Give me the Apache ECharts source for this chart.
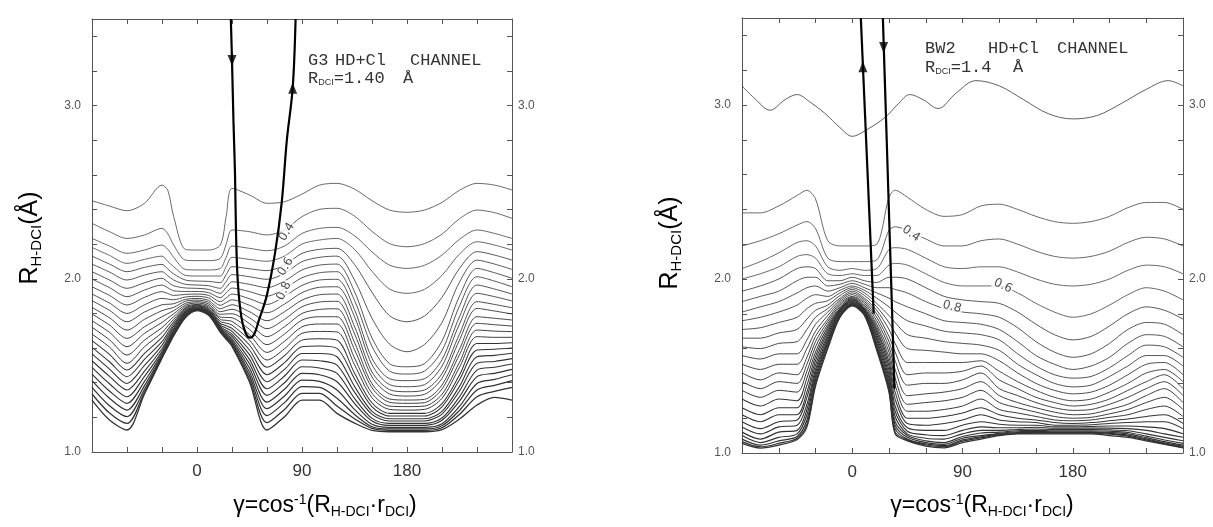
<!DOCTYPE html>
<html>
<head>
<meta charset="utf-8">
<script src="https://cdn.jsdelivr.net/npm/echarts@6/dist/echarts.min.js"></script>
<style>
html,body{margin:0;padding:0;background:#fff;}
#chart{width:1213px;height:527px;}
</style>
</head>
<body>
<div id="chart"></div>
<script>
// Angle samples (degrees) at which each panel's contours are tabulated
const g3Gamma  = [-90,-75,-60,-45,-30,-25,-20,-10,0,10,20,25,30,45,60,75,90,105,120,135,150,165,180,195,210,225,240,255,270];
const bw2Gamma = [-90,-75,-60,-45,-37,-30,-20,-10,0,10,20,30,35,45,60,75,90,105,120,135,150,165,180,195,210,225,240,255,270];

// Tick labels
const xLabelValues = [0, 90, 180];
const yLabelValues = [1, 2, 3];

// G3 surface: R of each contour (outermost first) at each angle sample
const g3ContourR = [
  [2.451,2.320,2.233,2.181,2.131,2.085,2.041,1.999,1.954,1.912,1.874,1.835,1.797,1.758,1.720,1.681,1.643,1.604,1.566,1.527,1.489,1.450,1.412,1.373,1.335,1.300],
  [2.420,2.272,2.189,2.135,2.085,2.039,1.993,1.949,1.904,1.860,1.818,1.775,1.733,1.691,1.648,1.606,1.564,1.521,1.479,1.437,1.394,1.352,1.310,1.267,1.225,1.185],
  [2.393,2.233,2.147,2.089,2.041,1.993,1.945,1.897,1.849,1.800,1.752,1.704,1.656,1.608,1.560,1.512,1.473,1.435,1.396,1.358,1.319,1.281,1.242,1.204,1.165,1.127],
  [2.436,2.253,2.166,2.112,2.066,2.022,1.977,1.935,1.893,1.850,1.808,1.766,1.723,1.685,1.646,1.608,1.569,1.535,1.500,1.467,1.437,1.408,1.383,1.362,1.346,1.335],
  [2.541,2.291,2.195,2.131,2.083,2.041,2.003,1.964,1.926,1.887,1.850,1.816,1.781,1.748,1.718,1.689,1.662,1.637,1.616,1.596,1.581,1.570,1.560,1.552,1.546,1.541],
  [2.510,2.260,2.170,2.100,2.056,2.017,1.982,1.948,1.915,1.883,1.853,1.826,1.799,1.773,1.750,1.728,1.707,1.688,1.672,1.656,1.644,1.634,1.625,1.617,1.611,1.606],
  [2.359,2.195,2.124,2.070,2.028,1.993,1.960,1.931,1.904,1.879,1.856,1.835,1.816,1.798,1.781,1.766,1.752,1.739,1.727,1.716,1.706,1.697,1.689,1.681,1.675,1.670],
  [2.170,2.108,2.054,2.020,1.993,1.968,1.947,1.927,1.910,1.895,1.881,1.870,1.858,1.848,1.839,1.831,1.824,1.816,1.810,1.804,1.799,1.793,1.787,1.783,1.779,1.775],
  [2.166,2.105,2.051,2.016,1.987,1.964,1.945,1.927,1.912,1.899,1.887,1.877,1.868,1.860,1.852,1.847,1.841,1.837,1.833,1.829,1.825,1.824,1.822,1.820,1.818,1.816],
  [2.166,2.105,2.051,2.016,1.985,1.960,1.939,1.920,1.904,1.889,1.875,1.864,1.854,1.845,1.837,1.829,1.824,1.818,1.812,1.808,1.804,1.800,1.797,1.795,1.793,1.789],
  [2.195,2.118,2.060,2.016,1.978,1.945,1.916,1.891,1.868,1.847,1.827,1.810,1.795,1.779,1.766,1.754,1.743,1.733,1.725,1.718,1.712,1.706,1.702,1.698,1.695,1.691],
  [2.360,2.200,2.125,2.070,2.024,1.985,1.950,1.919,1.890,1.863,1.839,1.817,1.797,1.777,1.760,1.744,1.729,1.715,1.703,1.693,1.683,1.675,1.668,1.662,1.657,1.651],
  [2.522,2.282,2.189,2.124,2.070,2.024,1.983,1.947,1.912,1.879,1.850,1.824,1.798,1.775,1.754,1.733,1.714,1.697,1.681,1.668,1.654,1.643,1.633,1.625,1.618,1.610],
  [2.484,2.272,2.176,2.112,2.058,2.012,1.968,1.926,1.885,1.847,1.810,1.775,1.741,1.708,1.677,1.646,1.618,1.589,1.562,1.535,1.510,1.485,1.462,1.441,1.421,1.404],
  [2.436,2.253,2.162,2.101,2.047,1.997,1.949,1.900,1.852,1.804,1.758,1.712,1.666,1.620,1.575,1.531,1.489,1.446,1.406,1.365,1.327,1.288,1.250,1.210,1.169,1.127],
  [2.445,2.282,2.189,2.131,2.079,2.031,1.987,1.943,1.899,1.854,1.810,1.766,1.723,1.681,1.639,1.596,1.556,1.516,1.477,1.439,1.400,1.362,1.323,1.285,1.246,1.204],
  [2.489,2.359,2.262,2.201,2.147,2.099,2.051,2.006,1.962,1.920,1.877,1.839,1.800,1.762,1.723,1.685,1.646,1.608,1.569,1.531,1.492,1.454,1.415,1.377,1.339,1.300],
  [2.541,2.401,2.291,2.224,2.170,2.124,2.079,2.035,1.993,1.951,1.908,1.866,1.823,1.781,1.739,1.696,1.654,1.612,1.569,1.527,1.485,1.446,1.408,1.373,1.339,1.300],
  [2.551,2.407,2.297,2.233,2.176,2.131,2.085,2.041,1.997,1.954,1.912,1.870,1.827,1.781,1.739,1.693,1.646,1.598,1.550,1.502,1.454,1.406,1.358,1.310,1.265,1.223],
  [2.518,2.362,2.249,2.170,2.083,1.993,1.926,1.875,1.822,1.781,1.725,1.683,1.633,1.591,1.543,1.504,1.456,1.423,1.379,1.346,1.310,1.281,1.246,1.217,1.192,1.167],
  [2.451,2.274,2.155,2.043,1.922,1.772,1.658,1.610,1.541,1.504,1.462,1.433,1.394,1.371,1.339,1.313,1.283,1.261,1.235,1.217,1.194,1.179,1.160,1.146,1.136,1.125],
  [2.397,2.203,2.079,1.941,1.787,1.623,1.510,1.467,1.423,1.389,1.360,1.335,1.306,1.287,1.265,1.246,1.223,1.208,1.192,1.179,1.165,1.154,1.142,1.133,1.125,1.117],
  [2.384,2.185,2.060,1.916,1.752,1.579,1.492,1.450,1.412,1.377,1.348,1.323,1.300,1.281,1.262,1.242,1.223,1.208,1.192,1.179,1.165,1.154,1.142,1.133,1.125,1.117],
  [2.397,2.203,2.078,1.939,1.785,1.621,1.510,1.467,1.423,1.389,1.358,1.333,1.304,1.285,1.265,1.246,1.223,1.208,1.192,1.179,1.165,1.154,1.142,1.133,1.125,1.117],
  [2.441,2.258,2.137,2.020,1.893,1.748,1.641,1.585,1.533,1.496,1.452,1.425,1.387,1.364,1.333,1.310,1.279,1.261,1.235,1.219,1.196,1.183,1.163,1.152,1.140,1.129],
  [2.511,2.347,2.228,2.143,2.060,1.981,1.900,1.843,1.781,1.739,1.681,1.646,1.593,1.562,1.518,1.489,1.444,1.417,1.379,1.352,1.319,1.294,1.263,1.240,1.217,1.190],
  [2.551,2.397,2.282,2.214,2.157,2.108,2.060,2.012,1.964,1.916,1.868,1.829,1.781,1.743,1.704,1.666,1.627,1.589,1.550,1.512,1.473,1.435,1.396,1.358,1.319,1.271],
  [2.541,2.382,2.262,2.195,2.137,2.085,2.035,1.987,1.941,1.897,1.852,1.814,1.772,1.735,1.698,1.662,1.627,1.593,1.558,1.523,1.489,1.454,1.419,1.385,1.350,1.315],
  [2.513,2.349,2.233,2.166,2.108,2.054,2.003,1.954,1.912,1.872,1.833,1.797,1.762,1.727,1.695,1.662,1.631,1.600,1.570,1.539,1.508,1.477,1.446,1.412,1.373,1.300]
];

// BW2 surface: R of each contour (outermost first) at each angle sample
const bw2ContourR = [
  [2.38,2.19,2.06,2.00,1.93,1.87,1.81,1.76,1.71,1.66,1.61,1.56,1.51,1.46,1.41,1.36,1.31,1.26,1.22,1.18,1.15,1.12,1.10,1.08,1.065,1.055],
  [2.38,2.22,2.10,2.03,1.96,1.90,1.84,1.78,1.72,1.66,1.60,1.54,1.48,1.42,1.37,1.32,1.27,1.22,1.18,1.14,1.11,1.08,1.06,1.045,1.035,1.028],
  [2.42,2.26,2.15,2.07,2.00,1.93,1.87,1.81,1.75,1.69,1.63,1.57,1.51,1.46,1.41,1.36,1.31,1.26,1.22,1.18,1.15,1.12,1.09,1.07,1.055,1.045],
  [2.48,2.31,2.21,2.13,2.06,1.99,1.92,1.85,1.78,1.71,1.64,1.57,1.51,1.45,1.40,1.35,1.30,1.26,1.22,1.19,1.16,1.13,1.11,1.095,1.085,1.078],
  [2.51,2.33,2.22,2.14,2.07,2.01,1.95,1.89,1.83,1.77,1.71,1.65,1.60,1.55,1.51,1.47,1.43,1.39,1.35,1.32,1.28,1.25,1.22,1.19,1.165,1.15],
  [2.46,2.29,2.19,2.12,2.06,2.01,1.96,1.91,1.86,1.82,1.78,1.74,1.70,1.67,1.64,1.61,1.58,1.555,1.53,1.505,1.48,1.46,1.44,1.42,1.40,1.385],
  [2.22,2.12,2.07,2.03,1.99,1.96,1.93,1.90,1.875,1.85,1.83,1.81,1.79,1.77,1.755,1.74,1.725,1.71,1.695,1.68,1.665,1.65,1.64,1.63,1.615,1.60],
  [2.19,2.10,2.05,2.02,1.99,1.97,1.95,1.935,1.92,1.905,1.89,1.88,1.87,1.86,1.85,1.84,1.83,1.825,1.82,1.815,1.81,1.80,1.795,1.79,1.785,1.78],
  [2.19,2.10,2.06,2.03,2.01,1.99,1.975,1.96,1.95,1.94,1.93,1.92,1.91,1.90,1.895,1.89,1.885,1.88,1.875,1.87,1.865,1.86,1.856,1.852,1.848,1.845],
  [2.19,2.10,2.05,2.02,1.99,1.97,1.95,1.935,1.92,1.905,1.89,1.88,1.87,1.86,1.85,1.84,1.83,1.825,1.82,1.815,1.81,1.805,1.80,1.797,1.794,1.79],
  [2.20,2.11,2.06,2.02,1.98,1.95,1.92,1.89,1.86,1.84,1.82,1.80,1.78,1.76,1.74,1.725,1.71,1.695,1.68,1.665,1.65,1.635,1.62,1.61,1.60,1.59],
  [2.47,2.28,2.17,2.08,2.01,1.95,1.89,1.84,1.79,1.75,1.71,1.67,1.64,1.61,1.58,1.55,1.525,1.50,1.475,1.45,1.43,1.41,1.39,1.375,1.36,1.35],
  [2.51,2.30,2.18,2.09,2.01,1.94,1.87,1.81,1.75,1.69,1.63,1.58,1.53,1.48,1.43,1.39,1.35,1.31,1.27,1.24,1.21,1.18,1.16,1.14,1.12,1.11],
  [2.47,2.28,2.17,2.08,2.00,1.92,1.84,1.76,1.68,1.60,1.52,1.45,1.39,1.33,1.28,1.24,1.20,1.17,1.145,1.125,1.11,1.10,1.09,1.08,1.075,1.07],
  [2.40,2.23,2.12,2.03,1.95,1.87,1.80,1.73,1.66,1.59,1.52,1.46,1.40,1.34,1.29,1.24,1.20,1.16,1.13,1.105,1.085,1.07,1.06,1.052,1.046,1.04],
  [2.36,2.19,2.07,1.98,1.90,1.83,1.76,1.70,1.64,1.58,1.52,1.46,1.40,1.35,1.30,1.25,1.21,1.17,1.13,1.10,1.08,1.06,1.05,1.042,1.036,1.03],
  [2.37,2.19,2.06,1.96,1.88,1.81,1.75,1.69,1.63,1.57,1.52,1.47,1.42,1.37,1.32,1.27,1.23,1.19,1.16,1.13,1.11,1.095,1.085,1.075,1.068,1.06],
  [2.42,2.22,2.07,1.96,1.87,1.80,1.74,1.68,1.62,1.57,1.53,1.50,1.46,1.41,1.36,1.31,1.26,1.22,1.18,1.15,1.13,1.115,1.10,1.093,1.087,1.08],
  [2.43,2.23,2.07,1.96,1.86,1.78,1.71,1.65,1.59,1.53,1.47,1.42,1.37,1.33,1.29,1.25,1.22,1.19,1.165,1.145,1.13,1.12,1.113,1.108,1.104,1.10],
  [2.40,2.20,2.04,1.92,1.81,1.72,1.64,1.57,1.51,1.46,1.41,1.37,1.33,1.29,1.26,1.23,1.20,1.18,1.16,1.145,1.135,1.128,1.122,1.117,1.113,1.11],
  [2.36,2.16,2.00,1.86,1.74,1.64,1.56,1.50,1.45,1.40,1.36,1.32,1.29,1.26,1.235,1.21,1.19,1.175,1.16,1.148,1.138,1.13,1.124,1.119,1.114,1.11],
  [2.33,2.13,1.97,1.81,1.68,1.58,1.51,1.45,1.40,1.36,1.32,1.29,1.26,1.235,1.21,1.19,1.175,1.16,1.15,1.142,1.135,1.128,1.122,1.118,1.114,1.11],
  [2.32,2.12,1.96,1.78,1.65,1.55,1.48,1.43,1.38,1.34,1.30,1.27,1.245,1.22,1.20,1.185,1.17,1.16,1.15,1.142,1.135,1.128,1.122,1.118,1.114,1.11],
  [2.33,2.13,1.97,1.80,1.67,1.57,1.50,1.44,1.39,1.35,1.31,1.28,1.25,1.225,1.205,1.19,1.175,1.162,1.152,1.143,1.135,1.128,1.122,1.118,1.114,1.11],
  [2.36,2.16,2.00,1.85,1.73,1.63,1.55,1.49,1.44,1.39,1.35,1.31,1.28,1.25,1.225,1.205,1.185,1.17,1.155,1.143,1.133,1.125,1.118,1.113,1.108,1.10],
  [2.41,2.21,2.05,1.91,1.80,1.71,1.63,1.56,1.50,1.45,1.40,1.36,1.32,1.28,1.25,1.22,1.195,1.175,1.155,1.14,1.128,1.118,1.11,1.103,1.097,1.09],
  [2.44,2.24,2.08,1.95,1.84,1.75,1.68,1.62,1.56,1.51,1.46,1.41,1.37,1.33,1.29,1.25,1.21,1.18,1.15,1.13,1.11,1.097,1.088,1.081,1.075,1.07],
  [2.44,2.23,2.07,1.93,1.82,1.74,1.67,1.61,1.56,1.52,1.48,1.45,1.41,1.37,1.32,1.27,1.22,1.18,1.14,1.11,1.09,1.075,1.065,1.058,1.053,1.05],
  [2.40,2.19,2.03,1.88,1.77,1.68,1.61,1.55,1.50,1.45,1.41,1.37,1.33,1.29,1.25,1.21,1.17,1.14,1.11,1.09,1.07,1.055,1.045,1.038,1.033,1.03]
];

// BW2 outermost (asymptotic) contour near R = 3
const bw2OuterGamma = [-90,-80,-67,-55,-45,-35,-22,-10,0,10,27,38,47,58,70,85,101,120,140,160,180,200,220,240,258,270];
const bw2OuterR     = [3.11,3.04,2.97,3.03,3.06,3.02,2.95,2.87,2.82,2.85,2.93,3.01,3.06,3.03,2.98,3.07,3.14,3.11,3.03,2.95,2.92,2.94,3.01,3.09,3.14,3.11];

// Minimum-energy paths
const g3PathGamma = [29,30,31.3,32.6,33.5,35,38,41.5,45.4,49,53,59.7,66.9,72.6,77,82,84.5];
const g3PathR     = [3.5,3.26,2.90,2.60,2.25,1.98,1.78,1.69,1.66,1.68,1.76,1.90,2.15,2.44,2.80,3.10,3.5];
const bw2InGamma  = [25,34.5];
const bw2InR      = [3.5,1.37];
const bw2OutGamma = [7,17.5];
const bw2OutR     = [3.5,1.80];

// Direction arrows on the paths
const g3ArrowGamma = [30, 82];
const g3ArrowR     = [3.26, 3.10];
const g3ArrowDir   = ['down', 'up'];
const bw2ArrowGamma = [25.6, 8.7];
const bw2ArrowR     = [3.33, 3.22];
const bw2ArrowDir   = ['down', 'up'];

// Contour level labels
const g3LevelText  = ['0.4', '0.6', '0.8'];
const g3LevelGamma = [77, 76, 74.6];
const g3LevelR     = [2.27, 2.07, 1.93];
const bw2LevelText  = ['0.4', '0.6', '0.8'];
const bw2LevelGamma = [48, 123, 81.4];
const bw2LevelR     = [2.26, 1.96, 1.84];

// label tilt (degrees)
const g3LevelTilt  = [58, 58, 65];
const bw2LevelTilt = [-35, -25, -15];

const FONT = '"Liberation Sans", Arial, sans-serif';
const MONO = '"Liberation Mono", "DejaVu Sans Mono", monospace';
const AXIS_COLOR = '#555';

function xAxisFor(grid, pos) {
  return {
    type: 'value', gridIndex: grid, position: pos,
    min: -90, max: 270, interval: 30,
    splitLine: { show: false },
    axisLine: { show: true, onZero: false, lineStyle: { color: AXIS_COLOR, width: 1 } },
    axisTick: { show: true, inside: true, length: 5, lineStyle: { color: AXIS_COLOR } },
    axisLabel: {
      show: pos === 'bottom', margin: 11, fontSize: 17, color: '#333', fontFamily: FONT,
      formatter: v => xLabelValues.indexOf(Math.round(v)) >= 0 && Math.abs(v - Math.round(v)) < 1e-6 ? String(Math.round(v)) : ''
    }
  };
}
function yAxisFor(grid, pos) {
  return {
    type: 'value', gridIndex: grid, position: pos,
    min: 1, max: 3.5, interval: 0.2,
    splitLine: { show: false },
    axisLine: { show: true, onZero: false, lineStyle: { color: AXIS_COLOR, width: 1 } },
    axisTick: { show: true, inside: true, length: 5, lineStyle: { color: AXIS_COLOR } },
    axisLabel: {
      show: true, margin: pos === 'left' ? 11 : 6, fontSize: 12, color: '#555', fontFamily: FONT,
      formatter: v => {
        const r = Math.round(v);
        return (Math.abs(v - r) < 1e-6 && yLabelValues.indexOf(r) >= 0) ? r.toFixed(1) : '';
      }
    }
  };
}

// one line series per contour; the inner contours near the repulsive wall are drawn a bit heavier
function contourSeries(gammas, columns, xi, yi) {
  const n = columns[0].length;
  const out = [];
  for (let k = 0; k < n; k++) {
    const t = k / (n - 1);
    out.push({
      type: 'line', xAxisIndex: xi, yAxisIndex: yi,
      data: gammas.map((g, i) => [g, columns[i][k]]),
      smooth: 0.3, symbol: 'none', silent: true,
      lineStyle: { color: k < 4 ? '#444' : '#333', width: 0.8 + 0.5 * t * t }, z: 2
    });
  }
  return out;
}
function pathSeries(gs, rs, xi, yi, smooth) {
  return {
    type: 'line', xAxisIndex: xi, yAxisIndex: yi,
    data: gs.map((g, i) => [g, rs[i]]),
    smooth: smooth, symbol: 'none', silent: true,
    lineStyle: { color: '#000', width: 2.2 }, z: 5
  };
}
function arrowSeries(gs, rs, dirs, xi, yi) {
  return {
    type: 'scatter', xAxisIndex: xi, yAxisIndex: yi,
    data: gs.map((g, i) => ({ value: [g, rs[i]], symbolRotate: dirs[i] === 'down' ? 180 : 0 })),
    symbol: 'triangle', symbolSize: [9, 11], silent: true,
    itemStyle: { color: '#000' }, z: 6
  };
}
function levelLabelSeries(texts, gs, rs, tilts, xi, yi) {
  return {
    type: 'scatter', xAxisIndex: xi, yAxisIndex: yi,
    data: gs.map((g, i) => ({ value: [g, rs[i]], name: texts[i], label: { rotate: tilts[i] } })),
    symbolSize: 1, itemStyle: { color: 'rgba(0,0,0,0)' }, silent: true, z: 4,
    label: {
      show: true, position: 'inside', formatter: p => p.name,
      fontSize: 12, color: '#222', fontFamily: '"DejaVu Sans", sans-serif',
      backgroundColor: '#fff', padding: [0, 1]
    }
  };
}

const series = [].concat(
  contourSeries(g3Gamma, g3ContourR, 0, 0),
  [pathSeries(g3PathGamma, g3PathR, 0, 0, 0.35),
   arrowSeries(g3ArrowGamma, g3ArrowR, g3ArrowDir, 0, 0),
   levelLabelSeries(g3LevelText, g3LevelGamma, g3LevelR, g3LevelTilt, 0, 0)],
  contourSeries(bw2Gamma, bw2ContourR, 2, 2),
  [{
    type: 'line', xAxisIndex: 2, yAxisIndex: 2,
    data: bw2OuterGamma.map((g, i) => [g, bw2OuterR[i]]),
    smooth: 0.35, symbol: 'none', silent: true,
    lineStyle: { color: '#444', width: 0.85 }, z: 2
  },
   pathSeries(bw2InGamma, bw2InR, 2, 2, false),
   pathSeries(bw2OutGamma, bw2OutR, 2, 2, false),
   arrowSeries(bw2ArrowGamma, bw2ArrowR, bw2ArrowDir, 2, 2),
   levelLabelSeries(bw2LevelText, bw2LevelGamma, bw2LevelR, bw2LevelTilt, 2, 2)]
);

// panel captions, word by word
function caption(x, y, parts) {
  return parts.map(p => ({
    type: 'text', x: x + p.dx, y: y, z: 10, silent: true,
    style: { text: p.text, rich: p.rich, font: '17px ' + MONO, fill: '#333', verticalAlign: 'middle' }
  }));
}
const subRich = {
  m: { fontSize: 17, fontFamily: MONO, color: '#333', lineHeight: 18 },
  s: { fontSize: 9, fontFamily: FONT, color: '#333', lineHeight: 9, verticalAlign: 'bottom' }
};
const titleRich = {
  m: { fontSize: 23, fontFamily: FONT, color: '#222', lineHeight: 26 },
  s: { fontSize: 14, fontFamily: FONT, color: '#222', lineHeight: 12, verticalAlign: 'bottom' },
  u: { fontSize: 14, fontFamily: FONT, color: '#222', lineHeight: 12, verticalAlign: 'top' }
};
const yTitleRich = {
  m: { fontSize: 25, fontFamily: FONT, color: '#222', lineHeight: 28 },
  s: { fontSize: 15, fontFamily: FONT, color: '#222', lineHeight: 14, verticalAlign: 'bottom' }
};
const xTitle = '{m|γ=cos}{u|-1}{m|(R}{s|H-DCI}{m|·r}{s|DCI}{m|)}';
const yTitle = '{m|R}{s|H-DCI}{m|(Å)}';

const graphic = [].concat(
  caption(308, 60, [{ dx: 0, text: 'G3' }, { dx: 27, text: 'HD+Cl' }, { dx: 102, text: 'CHANNEL' }]),
  caption(308, 78, [{ dx: 0, text: '{m|R}{s|DCI}{m|=1.40}', rich: subRich }, { dx: 95, text: 'Å' }]),
  caption(925, 48, [{ dx: 0, text: 'BW2' }, { dx: 63, text: 'HD+Cl' }, { dx: 132, text: 'CHANNEL' }]),
  caption(925, 67, [{ dx: 0, text: '{m|R}{s|DCI}{m|=1.4}', rich: subRich }, { dx: 88, text: 'Å' }]),
  [
    { type: 'text', x: 325, y: 506, silent: true, style: { text: xTitle, rich: titleRich, align: 'center', verticalAlign: 'middle' } },
    { type: 'text', x: 982, y: 506, silent: true, style: { text: xTitle, rich: titleRich, align: 'center', verticalAlign: 'middle' } },
    { type: 'text', x: 30, y: 238, rotation: Math.PI / 2, silent: true, style: { text: yTitle, rich: yTitleRich, align: 'center', verticalAlign: 'middle' } },
    { type: 'text', x: 670, y: 243, rotation: Math.PI / 2, silent: true, style: { text: yTitle, rich: yTitleRich, align: 'center', verticalAlign: 'middle' } }
  ]
);

const chart = echarts.init(document.getElementById('chart'), null, { renderer: 'canvas' });
chart.setOption({
  backgroundColor: '#fff',
  animation: false,
  grid: [
    { left: 92, right: 701, top: 19, bottom: 75 },
    { left: 742, right: 30, top: 18, bottom: 74 }
  ],
  xAxis: [xAxisFor(0, 'bottom'), xAxisFor(0, 'top'), xAxisFor(1, 'bottom'), xAxisFor(1, 'top')],
  yAxis: [yAxisFor(0, 'left'), yAxisFor(0, 'right'), yAxisFor(1, 'left'), yAxisFor(1, 'right')],
  series: series,
  graphic: graphic
});
</script>
</body>
</html>
